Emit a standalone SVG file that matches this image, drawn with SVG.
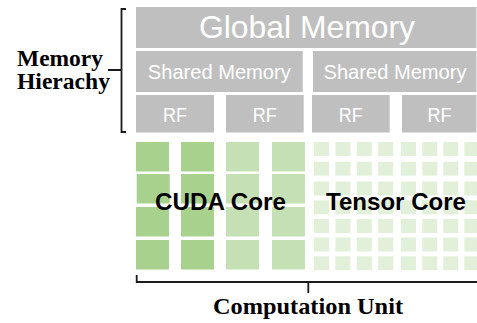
<svg xmlns="http://www.w3.org/2000/svg" width="477" height="323" viewBox="0 0 477 323">
<style>
.mem{fill:#bfbfbf}
.mt{fill:#ffffff;font-family:"Liberation Sans",Arial,sans-serif;text-anchor:middle}
.c1{fill:#a9d18e}
.c2{fill:#c5e0b4}
.t{fill:#e2f0d9}
.bt{fill:#000;font-family:"Liberation Sans",Arial,sans-serif;font-weight:bold;font-size:24px}
.lab{fill:#000;font-family:"Liberation Serif","Times New Roman",serif;font-weight:bold}
.br{fill:none;stroke:#1a1a1a;stroke-width:1.8}
</style>
<defs>
<rect id="tc" width="15" height="14" class="t"/>
<g id="trow">
<use href="#tc" x="314"/><use href="#tc" x="335.4"/><use href="#tc" x="356.8"/><use href="#tc" x="378.2"/>
<use href="#tc" x="401"/><use href="#tc" x="422.3"/><use href="#tc" x="443.3"/><use href="#tc" x="464.3"/>
</g>
</defs>
<rect width="477" height="323" fill="#fff"/>
<g id="global-memory">
<rect class="mem" x="136" y="7" width="340.5" height="41"/>
<text class="mt" x="307" y="37.5" font-size="30.5" textLength="216" lengthAdjust="spacingAndGlyphs">Global Memory</text>
</g>
<g id="shared-memory-1">
<rect class="mem" x="136" y="51" width="166.7" height="41"/>
<text class="mt" x="219.3" y="79.3" font-size="20" textLength="143" lengthAdjust="spacingAndGlyphs">Shared Memory</text>
</g>
<g id="shared-memory-2">
<rect class="mem" x="313" y="51" width="163.5" height="41"/>
<text class="mt" x="395" y="79.3" font-size="20" textLength="143" lengthAdjust="spacingAndGlyphs">Shared Memory</text>
</g>
<g id="rf-1">
<rect class="mem" x="136" y="95" width="78" height="37.5"/>
<text class="mt" x="175" y="121.7" font-size="20" textLength="24" lengthAdjust="spacingAndGlyphs">RF</text>
</g>
<g id="rf-2">
<rect class="mem" x="226" y="95" width="77.7" height="37.5"/>
<text class="mt" x="264.8" y="121.7" font-size="20" textLength="24" lengthAdjust="spacingAndGlyphs">RF</text>
</g>
<g id="rf-3">
<rect class="mem" x="312" y="95" width="77.7" height="37.5"/>
<text class="mt" x="350.8" y="121.7" font-size="20" textLength="24" lengthAdjust="spacingAndGlyphs">RF</text>
</g>
<g id="rf-4">
<rect class="mem" x="402" y="95" width="74.5" height="37.5"/>
<text class="mt" x="439.5" y="121.7" font-size="20" textLength="24" lengthAdjust="spacingAndGlyphs">RF</text>
</g>
<g id="cuda-core">
<rect class="c1" x="136" y="142" width="33" height="29.5"/>
<rect class="c1" x="181" y="142" width="33" height="29.5"/>
<rect class="c2" x="226" y="142" width="33" height="29.5"/>
<rect class="c2" x="272" y="142" width="33" height="29.5"/>
<rect class="c1" x="136.7" y="174" width="33" height="29.5"/>
<rect class="c1" x="181" y="174" width="33" height="29.5"/>
<rect class="c2" x="226" y="174" width="33" height="29.5"/>
<rect class="c2" x="272" y="174" width="33" height="29.5"/>
<rect class="c1" x="136" y="207" width="33" height="29.5"/>
<rect class="c1" x="181" y="207" width="33" height="29.5"/>
<rect class="c2" x="226" y="207" width="33" height="29.5"/>
<rect class="c2" x="272" y="207" width="33" height="29.5"/>
<rect class="c1" x="136" y="240" width="33" height="29.5"/>
<rect class="c1" x="181" y="240" width="33" height="29.5"/>
<rect class="c2" x="226" y="240" width="33" height="29.5"/>
<rect class="c2" x="272" y="240" width="33" height="29.5"/>
</g>
<g id="tensor-core">
<use href="#trow" y="142"/>
<use href="#trow" y="161.7"/>
<use href="#trow" y="181.5"/>
<use href="#trow" y="200.3"/>
<use href="#trow" y="219"/>
<use href="#trow" y="237.5"/>
<use href="#trow" y="256.2"/>
</g>
<g id="labels">
<text class="bt" x="155" y="210" textLength="131" lengthAdjust="spacingAndGlyphs">CUDA Core</text>
<text class="bt" x="326" y="209.5" textLength="140" lengthAdjust="spacingAndGlyphs">Tensor Core</text>
</g>
<g id="connectors">
<path class="br" d="M126,9 H121.5 V132 H126 M121.5,70 H108"/>
<path class="br" d="M136.7,275 V282 H477 M308.3,282 V293"/>
</g>
<g id="memory-hierarchy-label">
<text class="lab" x="17" y="66" font-size="22.5" textLength="86" lengthAdjust="spacingAndGlyphs">Memory</text>
<text class="lab" x="17" y="89" font-size="22.5" textLength="93" lengthAdjust="spacingAndGlyphs">Hierachy</text>
</g>
<g id="computation-unit-label">
<text class="lab" x="308" y="314" font-size="24" text-anchor="middle" textLength="190" lengthAdjust="spacingAndGlyphs">Computation Unit</text>
</g>
</svg>
